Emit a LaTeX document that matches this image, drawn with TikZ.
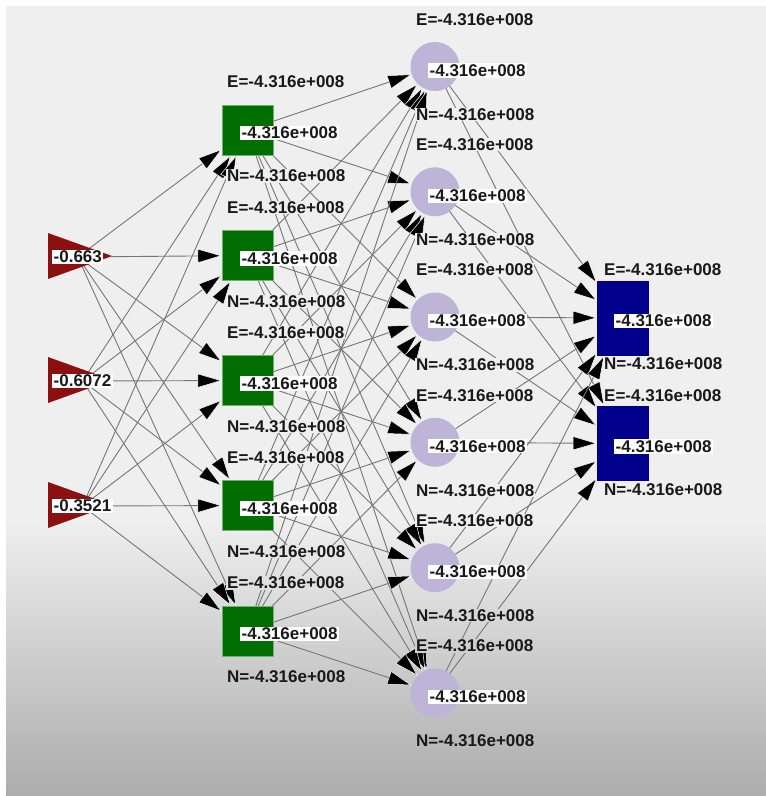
\documentclass[tikz,border=0pt]{standalone}
\usepackage{fontspec}
\setmainfont{Liberation Sans}
\usetikzlibrary{arrows.meta}
\definecolor{bgtop}{RGB}{239,239,239}
\definecolor{bgbot}{RGB}{172,172,172}
\definecolor{inred}{RGB}{140,16,16}
\definecolor{hidgreen}{RGB}{0,110,0}
\definecolor{lav}{RGB}{190,180,215}
\definecolor{outblue}{RGB}{0,0,140}
\definecolor{edgegray}{RGB}{118,118,118}
\definecolor{txt}{RGB}{25,25,25}
\pgfdeclarelayer{backdrop}
\pgfdeclarelayer{edges}
\pgfsetlayers{backdrop,edges,main}
\begin{document}
\begin{tikzpicture}[x=1pt,y=-1pt,
  every node/.style={font=\bfseries\fontsize{17}{17}\selectfont, text=txt, inner sep=1pt},
  valbox/.style={fill=white, anchor=west, inner xsep=1.5pt, inner ysep=1pt},
  enlab/.style={anchor=west, fill=bgbot!#1!bgtop, inner ysep=0.5pt},
  hidsq/.style={fill=hidgreen, draw=hidgreen!55!white, line width=0.6pt,
                minimum width=51pt, minimum height=50pt, inner sep=0pt},
  lavcirc/.style={circle, fill=lav, minimum size=49pt, inner sep=0pt},
  outsq/.style={fill=outblue, minimum width=52pt, minimum height=75pt, inner sep=0pt},
  conn/.style={draw=edgegray, line width=0.9pt,
               -{Triangle[length=24pt,width=14pt,color=white,fill=black,line width=0.5pt]}},
]
\useasboundingbox (0,0) rectangle (766,796);

% backdrop: light panel fading to grey towards the bottom
\begin{pgfonlayer}{backdrop}
  \fill[white] (0,0) rectangle (766,796);
  \fill[bgtop] (6,6) rectangle (766,520);
  \shade[top color=bgtop, bottom color=bgbot] (6,520) rectangle (766,796);
\end{pgfonlayer}

% input layer
\foreach \n/\y/\v in {1/256/-0.663, 2/380/-0.6072, 3/505/-0.3521} {
  \fill[inred] (48,\y-23) -- (112,\y) -- (48,\y+23) -- cycle;
  \node[valbox] (i\n) at (52,\y+1) {\v};
}

% first hidden layer
\foreach \n/\y in {1/130,2/255.5,3/380.5,4/505.5,5/631} {
  \pgfmathsetmacro\fe{max(0,min(100,(\y-48-520)/2.76))}
  \pgfmathsetmacro\fn{max(0,min(100,(\y+46-520)/2.76))}
  \node[hidsq] (h\n) at (247.5,\y) {};
  \node[valbox] (h\n v) at (240,\y+3) {-4.316e+008};
  \node[enlab=\fe] (h\n e) at (226,\y-48) {E=-4.316e+008};
  \node[enlab=\fn] (h\n n) at (226,\y+46) {N=-4.316e+008};
}

% second hidden layer
\foreach \n/\y in {1/66.5,2/191.8,3/317,4/442.3,5/567.7,6/693} {
  \pgfmathsetmacro\fe{max(0,min(100,(\y-47-520)/2.76))}
  \pgfmathsetmacro\fn{max(0,min(100,(\y+48-520)/2.76))}
  \node[lavcirc] (m\n) at (435,\y) {};
  \node[valbox] (m\n v) at (428,\y+4) {-4.316e+008};
  \node[enlab=\fe] (m\n e) at (415,\y-47) {E=-4.316e+008};
  \node[enlab=\fn] (m\n n) at (415,\y+48) {N=-4.316e+008};
}

% output layer
\foreach \n/\y in {1/318,2/443.5} {
  \node[outsq] (o\n) at (623,\y) {};
  \node[valbox] (o\n v) at (614,\y+3) {-4.316e+008};
  \node[enlab=0] (o\n e) at (603,\y-48) {E=-4.316e+008};
  \node[enlab=0] (o\n n) at (603,\y+46) {N=-4.316e+008};
}

% weighted connections
\begin{pgfonlayer}{edges}
  \foreach \s in {1,2,3} \foreach \t in {1,...,5}
    \draw[conn] (i\s.center) -- (h\t);
  \foreach \s in {1,...,5} \foreach \t in {1,...,6}
    \draw[conn] (h\s.center) -- (m\t);
  \foreach \s in {1,...,6} \foreach \t in {1,2}
    \draw[conn] (m\s.center) -- (o\t);
\end{pgfonlayer}
\end{tikzpicture}
\end{document}
